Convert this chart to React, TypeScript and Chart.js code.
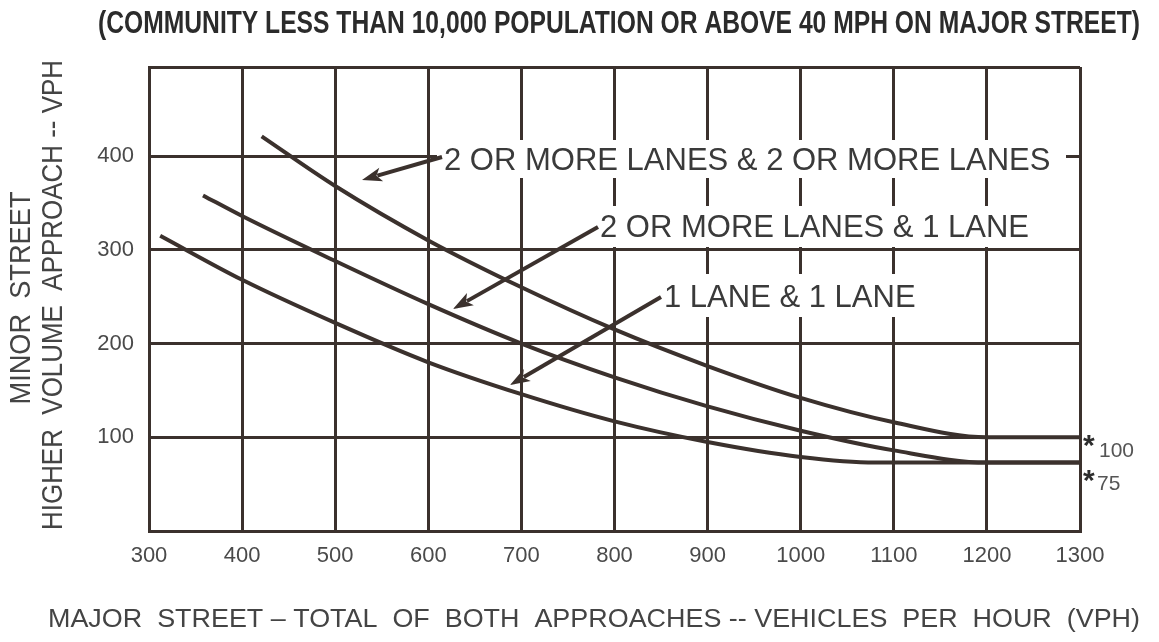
import React, { useEffect, useRef } from 'react';
import { Chart, registerables } from 'chart.js';

Chart.register(...registerables);

// ---- data ----
const xTickValues = [300, 400, 500, 600, 700, 800, 900, 1000, 1100, 1200, 1300];
const yTickValues = [100, 200, 300, 400];

const seriesNames = [
  '2 OR MORE LANES & 2 OR MORE LANES',
  '2 OR MORE LANES & 1 LANE',
  '1 LANE & 1 LANE',
];

const twoTwoX = [421, 500, 600, 700, 800, 900, 1000, 1100, 1200, 1300];
const twoTwoY = [421, 368, 310, 260, 215, 176, 142, 116, 100, 100];

const twoOneX = [358, 400, 500, 600, 700, 800, 900, 1000, 1100, 1200, 1300];
const twoOneY = [358, 336, 288, 242, 200, 164, 133, 107, 86, 73, 73];

const oneOneX = [312, 400, 500, 600, 700, 800, 900, 1000, 1080, 1300];
const oneOneY = [315, 268, 222, 180, 146, 117, 95, 79, 73, 73];

const titleText = '(COMMUNITY LESS THAN 10,000 POPULATION OR ABOVE 40 MPH ON MAJOR STREET)';
const xTitle = 'MAJOR  STREET \u2013 TOTAL  OF  BOTH  APPROACHES -- VEHICLES  PER  HOUR  (VPH)';
const yTitle1 = 'MINOR  STREET';
const yTitle2 = 'HIGHER  VOLUME  APPROACH -- VPH';
const noteHigh = '100';
const noteLow = '75';

const INK = '#3b312d';
const TEXT = '#3a3a3a';
const SANS = '"Liberation Sans", Arial, sans-serif';

function toPoints(xs: number[], ys: number[]) {
  return xs.map((x, i) => ({ x, y: ys[i] }));
}

function fitText(ctx: CanvasRenderingContext2D, text: string, cx: number, cy: number, width: number, font: string, color: string, rotate = false) {
  ctx.save();
  ctx.font = font;
  const w = ctx.measureText(text).width;
  ctx.translate(cx, cy);
  if (rotate) ctx.rotate(-Math.PI / 2);
  ctx.scale(width / w, 1);
  ctx.textAlign = 'center';
  ctx.textBaseline = 'middle';
  ctx.fillStyle = color;
  ctx.fillText(text, 0, 0);
  ctx.restore();
}

function arrow(ctx: CanvasRenderingContext2D, x1: number, y1: number, x2: number, y2: number) {
  const ang = Math.atan2(y2 - y1, x2 - x1);
  const len = 20;
  const half = 7;
  const bx = x2 - Math.cos(ang) * len;
  const by = y2 - Math.sin(ang) * len;
  ctx.save();
  ctx.strokeStyle = INK;
  ctx.fillStyle = INK;
  ctx.lineWidth = 4;
  ctx.beginPath();
  ctx.moveTo(x1, y1);
  ctx.lineTo(bx + Math.cos(ang) * 4, by + Math.sin(ang) * 4);
  ctx.stroke();
  ctx.beginPath();
  ctx.moveTo(x2, y2);
  ctx.lineTo(bx + Math.sin(ang) * half, by - Math.cos(ang) * half);
  ctx.lineTo(bx + Math.cos(ang) * 5, by + Math.sin(ang) * 5);
  ctx.lineTo(bx - Math.sin(ang) * half, by + Math.cos(ang) * half);
  ctx.closePath();
  ctx.fill();
  ctx.restore();
}

const overlayPlugin = {
  id: 'overlay',
  afterDraw(chart: any) {
    const ctx: CanvasRenderingContext2D = chart.ctx;
    // titles
    fitText(ctx, titleText, 619, 24, 1042, `bold 31px ${SANS}`, '#2b2b2b');
    fitText(ctx, xTitle, 594, 620, 1092, `26px ${SANS}`, '#444');
    fitText(ctx, yTitle1, 22, 298, 213, `29px ${SANS}`, '#444', true);
    fitText(ctx, yTitle2, 54, 295, 470, `29px ${SANS}`, '#444', true);

    // label boxes
    ctx.save();
    ctx.fillStyle = '#ffffff';
    ctx.fillRect(437, 140, 629, 38);
    ctx.fillRect(595, 206, 447, 41);
    ctx.fillRect(657, 274, 268, 43);
    ctx.restore();

    ctx.save();
    ctx.font = `31px ${SANS}`;
    ctx.fillStyle = TEXT;
    ctx.textAlign = 'left';
    ctx.textBaseline = 'middle';
    ctx.fillText(seriesNames[0], 444, 161);
    ctx.fillText(seriesNames[1], 600, 228);
    ctx.fillText(seriesNames[2], 664, 298);
    ctx.restore();

    arrow(ctx, 442, 157, 362, 180);
    arrow(ctx, 598, 227, 453, 309);
    arrow(ctx, 661, 297, 510, 385);

    // threshold notes
    ctx.save();
    ctx.fillStyle = '#2e2e2e';
    ctx.textAlign = 'left';
    ctx.textBaseline = 'alphabetic';
    ctx.font = `bold 30px ${SANS}`;
    ctx.fillText('*', 1083, 455);
    ctx.fillText('*', 1083, 490);
    ctx.fillStyle = '#555';
    ctx.font = `21px ${SANS}`;
    ctx.textBaseline = 'middle';
    ctx.fillText(noteHigh, 1099, 451);
    ctx.fillText(noteLow, 1097, 484);
    ctx.restore();
  },
};

export default function App() {
  const ref = useRef<HTMLCanvasElement>(null);
  useEffect(() => {
    document.body.style.margin = '0';
    const common = {
      borderColor: INK,
      borderWidth: 4,
      pointRadius: 0,
      fill: false,
      cubicInterpolationMode: 'monotone' as const,
    };
    const chart = new Chart(ref.current!, {
      type: 'line',
      data: {
        datasets: [
          { label: seriesNames[0], data: toPoints(twoTwoX, twoTwoY), ...common },
          { label: seriesNames[1], data: toPoints(twoOneX, twoOneY), ...common },
          { label: seriesNames[2], data: toPoints(oneOneX, oneOneY), ...common },
        ],
      },
      options: {
        animation: false,
        responsive: false,
        maintainAspectRatio: false,
        layout: { padding: { top: 67, right: 79, left: 0, bottom: 0 } },
        plugins: { legend: { display: false }, tooltip: { enabled: false }, title: { display: false } },
        scales: {
          x: {
            type: 'linear',
            min: 300,
            max: 1300,
            afterFit: (s: any) => { s.height = 111; },
            afterBuildTicks: (s: any) => { s.ticks = xTickValues.map((v) => ({ value: v })); },
            ticks: {
              color: '#4a4a4a',
              font: { family: SANS, size: 22 },
              padding: 12,
              maxRotation: 0,
              autoSkip: false,
              callback: (v: any) => String(v),
            },
            grid: { color: INK, lineWidth: 3, drawTicks: false },
            border: { color: INK, width: 3 },
          },
          y: {
            type: 'linear',
            min: 0,
            max: 495,
            afterFit: (s: any) => { s.width = 149; },
            afterBuildTicks: (s: any) => { s.ticks = [0, ...yTickValues, 495].map((v) => ({ value: v })); },
            ticks: {
              color: '#4a4a4a',
              font: { family: SANS, size: 22 },
              padding: 15,
              autoSkip: false,
              callback: (v: any) => (yTickValues.includes(Number(v)) ? String(v) : ''),
            },
            grid: { color: INK, lineWidth: 3, drawTicks: false },
            border: { color: INK, width: 3 },
          },
        },
      },
      plugins: [overlayPlugin],
    });
    return () => chart.destroy();
  }, []);
  return (
    <div style={{ position: 'absolute', left: 0, top: 0, width: 1159, height: 642, background: '#fff' }}>
      <canvas ref={ref} width={1159} height={642} style={{ display: 'block', width: 1159, height: 642 }} />
    </div>
  );
}
